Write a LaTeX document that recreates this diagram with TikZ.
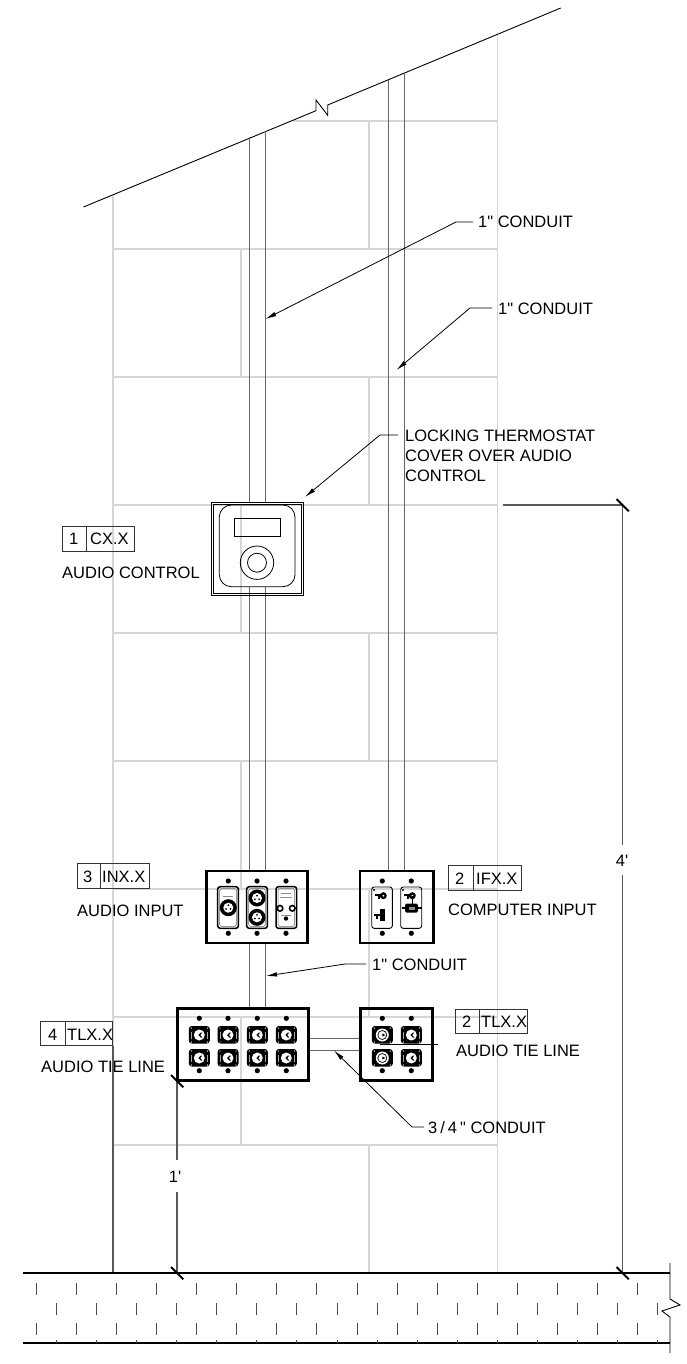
\documentclass[tikz,border=0pt]{standalone}
\usepackage{fontspec}
\newfontfamily\drawfont{Liberation Sans}
\usetikzlibrary{arrows.meta}
\tikzset{
  gridline/.style={draw=black!16,line width=1.2pt},
  conduit/.style={draw=black!60,line width=1.2pt},
  dimline/.style={draw=black!65,line width=1.2pt},
  thinblack/.style={draw=black,line width=0.9pt},
  leader/.style={draw=black,line width=0.8pt,-{Latex[length=11pt,width=4.5pt]}},
  slash/.style={draw=black,line width=2pt},
  plate/.style={draw=black,line width=2.6pt},
  module/.style={draw=black,line width=0.9pt,rounded corners=2.5pt},
  tag/.style={draw=black!80,line width=0.9pt},
  lbl/.style={inner sep=0pt,anchor=base west,font=\drawfont\fontsize{16.5}{20}\selectfont},
  mid/.style={inner sep=0pt,anchor=base,font=\drawfont\fontsize{16.5}{20}\selectfont},
  screw/.pic={\fill[black] (0,0) circle[radius=2.6pt];},
  xlrj/.pic={
    \fill[black] (0,0) circle[radius=8.5pt];
    \fill[white] (0,0) circle[radius=5pt];
    \foreach \a in {90,210,330}{\fill[black] (\a:2.5pt) circle[radius=1pt];}
  },
  tiejack/.pic={
    \fill[black,rounded corners=3pt] (-10.5,-9) rectangle (10.5,8.5);
    \fill[white] (0,0) circle[radius=5.5pt];
    \fill[black] (1.5,-2.5) -- (-1,0) -- (1.5,2.5) -- (3,2.5) -- (1,0) -- (3,-2.5) -- cycle;
    \draw[black!35,line width=0.8pt] (-8,-3.5) -- (-8,3.5) (8,-3.5) -- (8,3.5);
    \foreach \x/\y in {-8/-7,8/-7,-8/7,8/7}{\fill[white] (\x,\y) circle[radius=0.7pt];}
  },
  tiejackb/.pic={
    \fill[black,rounded corners=3pt] (-10.5,-9) rectangle (10.5,8.5);
    \fill[white] (0,0) circle[radius=6.5pt];
    \draw[black,line width=0.7pt] (0,0) circle[radius=4.5pt];
    \fill[black] (0,-1.5) -- (3,0) -- (0,1.5) -- cycle;
    \foreach \x/\y in {-8/-7,8/-7,-8/7,8/7}{\fill[white] (\x,\y) circle[radius=0.7pt];}
  },
  tblock/.pic={
    \fill[black] (0,0) circle[radius=3.5pt];
    \draw[black,line width=2pt] (-8.5,-1) -- (0,-1);
    \draw[black,line width=2pt] (-4.5,-1) -- (-4.5,3.5);
    \fill[white] (0,0) circle[radius=1pt];
  }
}
\begin{document}
\begin{tikzpicture}[x=1pt,y=-1pt]
\useasboundingbox (0,0) rectangle (687,1364);
% ---- masonry grid
\foreach \y in {377,505,633,761,889,1017,1145}{\draw[gridline] (113,\y) -- (497.5,\y);}
\draw[gridline] (113,249) -- (497.5,249);
\draw[gridline] (293,121) -- (497.5,121);
\draw[gridline] (113,195) -- (113,1046);
\draw[gridline] (497.5,35) -- (497.5,1273);
\foreach \a/\b in {249/377,505/633,761/889,1017/1145}{\draw[gridline] (241,\a) -- (241,\b);}
\foreach \a/\b in {121/249,377/505,633/761,889/1017,1145/1273}{\draw[gridline] (369,\a) -- (369,\b);}
% ---- roof
\coordinate (roofA) at (83.5,207);
\coordinate (roofB) at (316,110.7);
\coordinate (roofC) at (316,100);
\coordinate (roofD) at (327.7,115.3);
\coordinate (roofE) at (327.7,105);
\coordinate (roofF) at (560.7,8);
\draw[thinblack] (roofA) -- (roofB) -- (roofC) -- (roofD) -- (roofE) -- (roofF);
% ---- conduits
\draw[conduit] (249.5,137.5) -- (249.5,503) (265.5,131) -- (265.5,503);
\draw[conduit] (249.5,587) -- (249.5,871) (265.5,587) -- (265.5,871);
\draw[conduit] (249.5,943) -- (249.5,1008) (265.5,943) -- (265.5,1008);
\draw[conduit] (388.6,80) -- (388.6,871) (404.5,73) -- (404.5,871);
\draw[conduit] (308,1038.5) -- (361,1038.5) (308,1050.7) -- (361,1050.7);
% ---- audio control
\draw[draw=black,line width=0.9pt] (211.7,502.7) rectangle (303.3,595);
\draw[draw=black,line width=0.9pt] (213.7,504.7) rectangle (301.3,593);
\draw[draw=black,line width=0.8pt,rounded corners=12pt] (219.3,505) rectangle (295,586.7);
\draw[draw=black,line width=0.8pt] (234,518.7) rectangle (280.7,536.7);
\draw[draw=black,line width=0.8pt] (257,562.7) circle[radius=16.7pt];
\draw[draw=black,line width=0.8pt] (257,562.7) circle[radius=9.5pt];
% ---- audio input plate
\draw[plate] (206.7,871) rectangle (307.7,943);
\foreach \x in {228.3,257,286}{
  \pic at (\x,881) {screw};
  \pic at (\x,933.3) {screw};
}
\foreach \x in {217.7,246.7,276}{
  \draw[module,line width=1.5pt] (\x,886.7) rectangle ++(20.7,41.6);
  \draw[draw=black!60,line width=0.5pt,rounded corners=1.5pt] (\x+2,888.7) rectangle ++(16.7,37.6);
}
\pic at (228.3,907.7) {xlrj};
\pic at (257,898) {xlrj};
\pic at (257,917.3) {xlrj};
\draw[draw=black,line width=1.6pt] (280,908.3) circle[radius=2.8pt] (292.3,908.3) circle[radius=2.8pt];
\fill[black] (286,918.5) circle[radius=2.2pt];
\draw[draw=black!45,line width=0.8pt] (281,893) -- (291,893) (280,897) -- (292,897) (281,915) -- (291,915) (223,896) -- (233,896);
% ---- computer input plate
\draw[plate] (360,871) rectangle (433.3,943);
\foreach \x in {382.3,411.3}{
  \pic at (\x,881) {screw};
  \pic at (\x,933.3) {screw};
}
\draw[module] (371.7,887) rectangle (392.3,928.3);
\draw[module] (400.7,887) rectangle (421.7,928.3);
\fill[black] (374,890) circle[radius=1.2pt] (403,890) circle[radius=1.2pt];
\pic at (383.3,895.7) {tblock};
\pic at (412.3,895.7) {tblock};
\fill[black] (380,909) rectangle (385,921);
\draw[black,line width=2pt] (374,914.5) -- (380,914.5) (376.5,914.5) -- (376.5,918.5);
\draw[black,line width=1.4pt] (412.3,896) -- (412.3,904);
\draw[black,line width=2pt] (401.5,908) -- (421.5,908);
\fill[black,rounded corners=1.5pt] (405,903.5) rectangle (418,912.5);
\fill[black!45] (409,906.5) rectangle (415,909.5);
% ---- tie line plates
\draw[plate] (177.7,1008.3) rectangle (308.3,1080.7);
\foreach \x in {199.3,228,257.3,286.3}{
  \pic at (\x,1018.3) {screw};
  \pic at (\x,1070.7) {screw};
  \pic at (\x,1035) {tiejack};
  \pic at (\x,1058) {tiejack};
}
\draw[plate] (360.7,1008.3) rectangle (432.7,1080.7);
\foreach \x in {382.3,411.3}{
  \pic at (\x,1018.3) {screw};
  \pic at (\x,1070.7) {screw};
}
\pic at (382.3,1035) {tiejackb};
\pic at (382.3,1058) {tiejackb};
\pic at (411.3,1035) {tiejack};
\pic at (411.3,1058) {tiejack};
\coordinate (tieA) at (380,1044);
\coordinate (tieB) at (438,1044);
\draw[thinblack] (tieA) -- (tieB);
% ---- tags
\node[lbl] (tagOneA) at (69,544.5) {1};
\node[lbl] (tagOneB) at (90,544.5) {CX.X};
\draw[tag] (62,526.7) rectangle (134.3,551.3) (86,526.7) -- (86,551.3);
\node[lbl] (nameOne) at (62,578) {AUDIO CONTROL};
\node[lbl] (tagThreeA) at (83,882) {3};
\node[lbl] (tagThreeB) at (102,882) {INX.X};
\draw[tag] (77,863.5) rectangle (149,888) (100,863.5) -- (100,888);
\node[lbl] (nameThree) at (77,916) {AUDIO INPUT};
\node[lbl] (tagTwoA) at (455,884) {2};
\node[lbl] (tagTwoB) at (476,884) {IFX.X};
\draw[tag] (448,865.5) rectangle (521,890) (473,865.5) -- (473,890);
\node[lbl] (nameTwo) at (448,915) {COMPUTER INPUT};
\node[lbl] (tagFourA) at (48,1040) {4};
\node[lbl] (tagFourB) at (67,1040) {TLX.X};
\draw[tag] (40.7,1021.7) rectangle (112.7,1045.7) (65,1021.7) -- (65,1045.7);
\node[lbl] (nameFour) at (41,1072) {AUDIO TIE LINE};
\node[lbl] (tagFiveA) at (462,1027) {2};
\node[lbl] (tagFiveB) at (481,1027) {TLX.X};
\draw[tag] (455,1009) rectangle (527,1033) (479,1009) -- (479,1033);
\node[lbl] (nameFive) at (456,1056) {AUDIO TIE LINE};
% ---- callouts
\node[lbl] (conA) at (478,228) {1" CONDUIT};
\coordinate (conAk) at (456,222);
\coordinate (conAe) at (473,222);
\coordinate (conAt) at (265.5,319);
\draw[leader] (conAe) -- (conAk) -- (conAt);
\node[lbl] (conB) at (498,314) {1" CONDUIT};
\coordinate (conBk) at (470,308);
\coordinate (conBe) at (492,308);
\coordinate (conBt) at (396.5,370);
\draw[leader] (conBe) -- (conBk) -- (conBt);
\node[lbl,align=left,anchor=west] (cover) at (405,456) {LOCKING THERMOSTAT\\COVER OVER AUDIO\\CONTROL};
\coordinate (covK) at (380,435);
\coordinate (covE) at (398,435);
\coordinate (covT) at (305,497);
\draw[leader] (covE) -- (covK) -- (covT);
\node[lbl] (conC) at (372,970) {1" CONDUIT};
\coordinate (conCk) at (345,964);
\coordinate (conCe) at (366,964);
\coordinate (conCt) at (266,976);
\draw[leader] (conCe) -- (conCk) -- (conCt);
\node[lbl] (conD) at (428,1133) {3\kern3pt/\kern3pt4\kern3pt" CONDUIT};
\coordinate (conDk) at (412,1127);
\coordinate (conDe) at (424,1127);
\coordinate (conDt) at (334,1050.5);
\draw[leader] (conDe) -- (conDk) -- (conDt);
% ---- dimensions
\draw[dimline] (113,1046) -- (113,1273);
\coordinate (dimAa) at (177,1081);
\coordinate (dimAb) at (177,1273);
\draw[dimline] (dimAa) -- (177,1160) (177,1192) -- (dimAb);
\node[mid] (dimAt) at (175,1182) {1'};
\coordinate (dimBa) at (622.5,505);
\coordinate (dimBb) at (622.5,1273);
\draw[dimline] (503,505) -- (dimBa) -- (622.5,845) (622.5,875) -- (dimBb);
\node[mid] (dimBt) at (622,866) {4'};
\draw[slash] (171,1075) -- (183.3,1087.3);
\draw[slash] (171,1267) -- (183.3,1279.3);
\draw[slash] (616.5,1267) -- (628.8,1279.3);
\draw[slash] (616.5,499) -- (628.8,511.3);
% ---- ground
\draw[draw=black,line width=2pt] (23,1273) -- (670,1273);
\draw[draw=black,line width=2pt] (23,1343) -- (670,1343);
\foreach \k in {0,...,15}{
  \draw[draw=black!70,line width=0.9pt] (36.4+40.07*\k,1283) -- ++(0,12);
  \draw[draw=black!70,line width=0.9pt] (36.4+40.07*\k,1323) -- ++(0,12);
}
\foreach \k in {0,...,15}{
  \draw[draw=black!70,line width=0.9pt] (56.5+40.07*\k,1303) -- ++(0,12);
  \draw[draw=black!70,line width=0.9pt] (56.5+40.07*\k,1340) -- ++(0,3);
}
\coordinate (gndA) at (670,1263);
\coordinate (gndB) at (670,1299);
\coordinate (gndC) at (680,1305);
\coordinate (gndD) at (662,1311);
\coordinate (gndE) at (670,1317);
\coordinate (gndF) at (670,1353);
\draw[thinblack] (gndA) -- (gndB) -- (gndC) -- (gndD) -- (gndE) -- (gndF);
\end{tikzpicture}
\end{document}
